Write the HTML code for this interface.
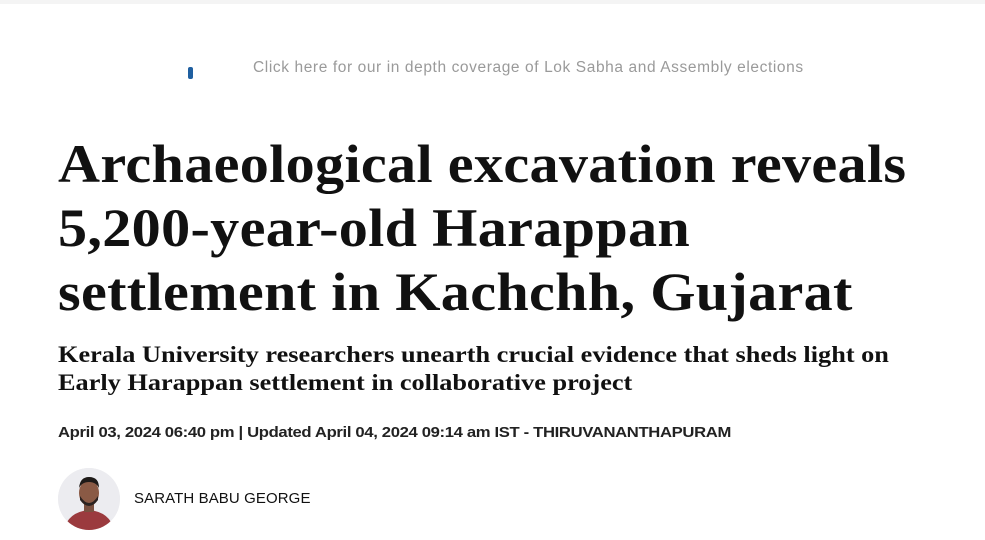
<!DOCTYPE html>
<html><head><meta charset="utf-8"><style>
body{margin:0;width:985px;height:540px;background:#fff;overflow:hidden;position:relative;font-family:"Liberation Sans",sans-serif}
.topbar{position:absolute;left:0;top:0;width:985px;height:4px;background:#f4f4f4}
.promo{position:absolute;left:253px;top:59px;font-size:15.5px;color:#9a9a9a;letter-spacing:0.6px;white-space:nowrap}
.pin{position:absolute;left:188px;top:67px;width:5px;height:12px;background:#1f5fa0;border-radius:2px}
h1{position:absolute;left:58px;top:132px;margin:0;font-family:"Liberation Serif",serif;font-weight:bold;font-size:54px;line-height:64px;color:#111;letter-spacing:0.3px;white-space:nowrap;transform:scaleX(1.077);transform-origin:0 0}
h2{position:absolute;left:58px;top:341px;margin:0;font-family:"Liberation Serif",serif;font-weight:bold;font-size:23.5px;line-height:28px;color:#111;white-space:nowrap;transform:scaleX(1.119);transform-origin:0 0}
.date{position:absolute;left:58px;top:425px;font-size:14.5px;font-weight:bold;color:#222;white-space:nowrap;letter-spacing:-0.3px;transform:scaleX(1.148);transform-origin:0 0}
.avatar{position:absolute;left:58px;top:468px;width:62px;height:62px;border-radius:50%;background:#eee;overflow:hidden}
.author{position:absolute;left:134px;top:490px;font-size:15px;color:#111;letter-spacing:0.1px;white-space:nowrap}
</style></head><body>
<div class="topbar"></div>
<div class="pin"></div>
<div class="promo">Click here for our in depth coverage of Lok Sabha and Assembly elections</div>
<h1>Archaeological excavation reveals<br>5,200-year-old Harappan<br>settlement in Kachchh, Gujarat</h1>
<h2>Kerala University researchers unearth crucial evidence that sheds light on<br>Early Harappan settlement in collaborative project</h2>
<div class="date">April 03, 2024 06:40 pm | Updated April 04, 2024 09:14 am IST - THIRUVANANTHAPURAM</div>
<div class="avatar">
<svg width="62" height="62" viewBox="0 0 62 62"><rect width="62" height="62" fill="#ececf0"/><path d="M6 62 Q10 44 31 42 Q52 44 56 62Z" fill="#9b3a3e"/><rect x="26" y="34" width="10" height="10" fill="#7a5040"/><ellipse cx="31" cy="25" rx="10" ry="13" fill="#8a5a45"/><path d="M21 20 Q22 9 31 9 Q41 9 41 20 Q38 14 31 14 Q24 14 21 20Z" fill="#1e1a18"/><path d="M22 28 Q31 42 40 28 L40 32 Q31 44 22 32Z" fill="#2a2220"/></svg>
</div>
<div class="author">SARATH BABU GEORGE</div>
</body></html>
